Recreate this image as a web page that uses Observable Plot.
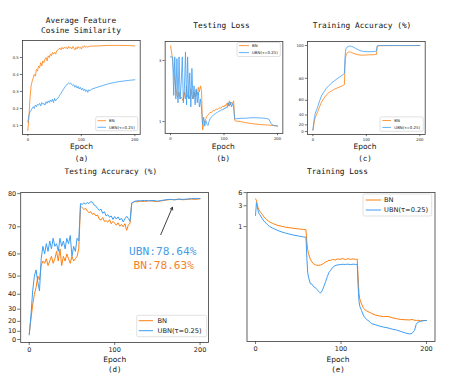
<!DOCTYPE html>
<html><head><meta charset="utf-8">
<script src="https://cdn.jsdelivr.net/npm/d3@7"></script>
<script src="https://cdn.jsdelivr.net/npm/@observablehq/plot@0.6"></script>
<style>
body{margin:0;background:#fff;}
#root{position:relative;width:457px;height:384px;overflow:hidden;background:#fff;}
</style></head><body><div id="root"></div>
<script>
// ---------- data ----------
const xTicks = [0, 100, 200];
const seriesNames = ["BN", "UBN(τ=0.25)"];

// (a) Average feature cosine similarity
const epochsA = [0,2,4,6,8,10,12,14,16,18,20,22,24,26,28,30,32,34,36,38,40,42,44,46,48,50,52,54,56,58,60,62,64,66,68,70,72,74,76,78,80,82,84,86,88,90,92,94,96,98,100,102,104,106,108,110,112,114,116,118,120,130,140,150,160,170,180,190,200];
const bnA = [0.07,0.15,0.26,0.33,0.36,0.38,0.40,0.39,0.43,0.42,0.45,0.44,0.47,0.45,0.48,0.47,0.49,0.50,0.48,0.51,0.50,0.52,0.51,0.53,0.52,0.53,0.52,0.54,0.545,0.55,0.555,0.545,0.56,0.55,0.56,0.555,0.56,0.55,0.565,0.555,0.56,0.55,0.565,0.555,0.545,0.56,0.55,0.565,0.555,0.56,0.55,0.565,0.56,0.57,0.56,0.565,0.56,0.565,0.565,0.568,0.567,0.568,0.57,0.571,0.571,0.571,0.571,0.57,0.568];
const ubnA = [0.12,0.16,0.18,0.19,0.20,0.21,0.20,0.22,0.21,0.225,0.22,0.23,0.215,0.235,0.225,0.23,0.22,0.24,0.23,0.245,0.235,0.25,0.24,0.255,0.235,0.26,0.245,0.255,0.26,0.27,0.28,0.29,0.30,0.31,0.32,0.33,0.335,0.345,0.35,0.345,0.35,0.34,0.335,0.34,0.325,0.335,0.32,0.33,0.315,0.325,0.31,0.32,0.305,0.315,0.30,0.31,0.295,0.31,0.305,0.31,0.315,0.325,0.335,0.345,0.352,0.358,0.362,0.366,0.369];
const yTicksA = [0.1, 0.2, 0.3, 0.4, 0.5];

// (b) Testing loss (log)
const epochsB = [0,2,4,6,8,10,12,14,16,18,20,22,24,26,28,30,32,34,36,38,40,42,44,46,48,50,52,54,56,58,60,62,64,66,68,70,72,74,76,78,80,82,84,86,88,90,92,94,96,98,100,102,104,106,108,110,112,114,116,118,120,122,130,140,150,160,170,180,184,188,192,196,200];
const bnB = [3.9,3.5,3.0,2.4,2.1,1.8,1.6,1.55,1.7,1.5,1.55,1.5,1.45,1.7,1.5,1.9,1.55,1.6,1.5,1.8,1.6,1.5,1.7,1.55,1.75,1.6,1.85,1.7,1.9,1.75,0.86,0.95,1.02,1.05,1.1,1.12,1.15,1.18,1.17,1.2,1.22,1.21,1.24,1.25,1.24,1.27,1.28,1.27,1.3,1.32,1.3,1.35,1.33,1.4,1.32,1.45,1.35,1.42,1.38,1.45,1.02,1.01,1.0,0.98,0.965,0.955,0.945,0.94,0.937,0.933,0.93,0.927,0.925];
const ubnB = [3.2,3.2,3.2,1.6,3.2,1.5,3.1,1.4,3.2,1.5,2.0,3.2,1.4,1.8,3.5,1.35,3.2,1.5,2.4,1.3,2.6,1.5,1.9,1.35,1.8,1.4,1.7,1.3,1.5,1.25,0.95,1.08,0.92,1.02,0.95,0.93,1.0,1.05,1.08,1.1,1.12,1.14,1.15,1.17,1.18,1.2,1.21,1.22,1.24,1.23,1.27,1.26,1.3,1.28,1.4,1.32,1.42,1.3,1.38,1.3,1.05,1.05,1.06,1.06,1.07,1.07,1.065,1.055,1.04,0.96,0.935,0.925,0.92];
const yTicksB = [1, 3];

// (c) Training accuracy
const epochsC = [0,1,2,3,4,6,8,10,13,16,20,25,30,35,40,45,50,55,59,60,61,62,64,66,68,70,72,75,80,85,90,95,100,105,110,115,119,120,121,125,130,140,150,160,170,180,190,200];
const bnC = [5,13,22,29,34,39,43,47,53,57.5,61.5,65.5,68,69.5,71,72,73,74,75,88,93,95,96,96.5,96.7,96.6,96.4,96,95.5,95.1,94.9,94.9,95,95.1,95.1,95.2,95.3,99,99.8,99.9,99.9,99.95,99.95,99.95,99.95,99.95,99.95,99.95];
const ubnC = [5,18,28,36,41,46,50,54,60,64.5,68,71.8,74.2,76.3,78,79.5,81,82.3,83.5,93,97,98.5,99.2,99.5,99.6,99.7,99.6,99.3,98.5,97.8,97.2,96.9,96.8,96.8,96.8,96.9,97.2,99.5,99.9,100,100,100,100,100,100,100,100,100];
const yTicksC = [0, 20, 40, 60, 80, 100];

// (d) Testing accuracy
const epochsD = [0,2,4,6,8,10,12,14,16,18,20,22,24,26,28,30,32,34,36,38,40,42,44,46,48,50,52,54,56,58,60,62,64,66,68,70,72,74,76,78,80,82,84,86,88,90,92,94,96,98,100,102,104,106,108,110,112,114,116,118,120,122,124,126,130,135,140,145,150,155,160,165,170,175,180,185,190,195,200];
const bnD = [7,22,33,40,44,50,48,55,57,56,58,55,57,59,56,58,61,57,62,55,59,57,60,58,56,59,57,58,59,62,76.5,76,75.5,75.8,75,74.5,74.8,74,74.3,73.5,73.8,72.5,72.2,73,71.8,72,71.5,72.3,71,71.8,71.2,70.5,71.3,70.2,70.8,70,71,68.8,70.5,71.2,77.3,77.6,77.8,77.7,77.9,77.8,78.0,77.9,77.8,78.0,78.2,78.4,78.3,78.4,78.3,78.4,78.5,78.4,78.6];
const ubnD = [6,25,42,50,53,47,42,58,63,60,64,61,65,62,66,63,64,61,66,63,65,62,66,64,67,59,63,61,66,65,77.2,77,77.4,77.1,77.5,77.2,77.8,77.6,76.8,76.5,75.8,75.2,75.6,74.3,74.8,73.5,73.9,73.1,73.5,72.4,73.3,72.5,73.2,72.2,72.8,71.6,72.6,73.4,72.7,71.8,77.4,77.7,77.9,78.0,78.0,78.1,78.0,78.1,77.9,78.1,78.3,78.4,78.3,78.5,78.4,78.5,78.6,78.7,78.6];
const yTicksD = [0, 10, 20, 30, 40, 50, 60, 70, 80];
const finalLabels = ["UBN:78.64%", "BN:78.63%"];
const annoArrow = [{e1: 154, a1: 67.3, e2: 167.6, a2: 76.1}];
const annoText = [{e: 156.3, a: 61.1}, {e: 157.5, a: 54.9}];

// (e) Training loss (log)
const epochsE = [0,1,2,3,4,6,8,10,13,16,20,25,30,35,40,45,50,55,59,60,61,62,64,66,68,70,72,74,76,78,80,82,84,86,88,90,93,96,99,102,105,108,111,114,117,119,120,121,122,124,126,128,130,133,136,140,145,150,155,160,165,170,175,180,183,186,188,190,193,196,200];
const bnE = [4.3,4.0,3.2,2.7,2.4,2.1,1.9,1.65,1.45,1.3,1.18,1.08,1.02,0.97,0.94,0.91,0.885,0.865,0.85,0.45,0.3,0.24,0.18,0.155,0.14,0.133,0.13,0.13,0.132,0.137,0.145,0.155,0.16,0.17,0.168,0.178,0.172,0.182,0.178,0.186,0.175,0.185,0.178,0.183,0.177,0.18,0.07,0.03,0.022,0.017,0.014,0.0125,0.0118,0.011,0.0103,0.0095,0.009,0.0087,0.0088,0.0082,0.0078,0.0075,0.0074,0.0073,0.0075,0.0072,0.0071,0.0072,0.007,0.0071,0.0071];
const ubnE = [1.8,3.5,2.8,2.3,2.0,1.75,1.5,1.33,1.15,1.02,0.92,0.83,0.76,0.71,0.67,0.635,0.61,0.585,0.57,0.2,0.09,0.07,0.05,0.048,0.042,0.04,0.036,0.033,0.03,0.034,0.043,0.055,0.072,0.09,0.1,0.115,0.128,0.133,0.135,0.137,0.136,0.138,0.135,0.138,0.136,0.137,0.045,0.02,0.015,0.012,0.0095,0.0082,0.0075,0.0068,0.006,0.0057,0.0053,0.005,0.0048,0.0045,0.0043,0.004,0.0037,0.0035,0.0036,0.0042,0.0058,0.0065,0.0068,0.007,0.0071];
const yTicksE = [1, 3, 6];

// ---------- style ----------
const ORANGE = "#ff7f0e", BLUE = "#3d9ef5", FRAME = "#3a3a3a";
const SANS = '"DejaVu Sans", sans-serif', MONO = '"DejaVu Sans Mono", monospace';
const root = document.getElementById("root");

// accuracy axis of the original is exponentially stretched
const TAU = 50;
const accT = v => Math.exp(v / TAU);
const accFmt = t => String(Math.round(TAU * Math.log(t)));

function drawPanel(c) {
  const d = c.epochs.map((e, i) => ({e, bn: c.bn[i], ubn: c.ubn[i]}));
  const ty = c.ty || (v => v);
  const yt = c.yticks.map(ty);
  const isLog = c.ytype === "log";
  const svg = Plot.plot({
    width: c.w, height: c.h,
    marginLeft: c.ml, marginRight: c.mr, marginTop: c.mt, marginBottom: c.mb,
    style: `background:none;overflow:visible;max-width:none;font-family:${SANS};`,
    x: {domain: [-10, 210]},
    y: {type: c.ytype || "linear", domain: c.ydomain},
    marks: [
      Plot.line(d, {x: "e", y: r => ty(r.bn), stroke: ORANGE, strokeWidth: c.sw}),
      Plot.line(d, {x: "e", y: r => ty(r.ubn), stroke: BLUE, strokeWidth: c.sw}),
      ...(c.extra || []),
      Plot.frame({stroke: FRAME, strokeWidth: 0.8}),
      Plot.axisX({ticks: xTicks, tickFormat: d => String(d), tickSize: c.ts, tickPadding: c.tp, fontSize: c.fs, label: null, stroke: FRAME, strokeWidth: 0.7, fill: "#222"}),
      Plot.axisY({ticks: yt, tickFormat: c.yfmt, tickSize: c.ts, tickPadding: c.tp, fontSize: c.fs, label: null, stroke: FRAME, strokeWidth: 0.7, fill: isLog ? "none" : "#222"}),
      ...(isLog ? [Plot.text(yt, {y: v => v, frameAnchor: "left", dx: -(c.ts + c.tp), textAnchor: "end", text: c.yfmt, fontSize: c.fs, fill: "#222"})] : [])
    ]
  });
  svg.style.position = "absolute";
  svg.style.left = c.x + "px";
  svg.style.top = c.y + "px";
  root.appendChild(svg);
}

const topCommon = {w: 150, h: 110, y: 35, sw: 0.8, ts: 2.2, tp: 1.6, fs: 3.8};
drawPanel({...topCommon, x: 0, ml: 22, mr: 10.3, mt: 5, mb: 11,
  epochs: epochsA, bn: bnA, ubn: ubnA, ydomain: [0.047, 0.6], yticks: yTicksA, yfmt: d => d.toFixed(1)});
drawPanel({...topCommon, x: 145, ml: 19.65, mr: 12.65, mt: 6, mb: 12,
  epochs: epochsB, bn: bnB, ubn: ubnB, ytype: "log", ydomain: [0.806, 4.22], yticks: yTicksB, yfmt: d => String(d)});
drawPanel({...topCommon, x: 295, ml: 12, mr: 20.3, mt: 6, mb: 11,
  epochs: epochsC, bn: bnC, ubn: ubnC, ty: accT, ydomain: [0.777, 7.687], yticks: yTicksC, yfmt: accFmt});

const botCommon = {w: 225, h: 170, y: 185, sw: 1.0, ts: 3, tp: 1.5, fs: 6.5};
drawPanel({...botCommon, x: 0, ml: 20.2, mr: 16.9, mt: 7, mb: 13,
  epochs: epochsD, bn: bnD, ubn: ubnD, ty: accT, ydomain: [0.919, 4.984], yticks: yTicksD, yfmt: accFmt,
  extra: [
    Plot.arrow(annoArrow, {x1: "e1", y1: r => accT(r.a1), x2: "e2", y2: r => accT(r.a2), stroke: "#111", strokeWidth: 0.8, headLength: 5}),
    Plot.text([annoText[0]], {x: "e", y: r => accT(r.a), text: () => finalLabels[0], fill: "#4a9be6", fontFamily: MONO, fontSize: 11.2}),
    Plot.text([annoText[1]], {x: "e", y: r => accT(r.a), text: () => finalLabels[1], fill: "#f5822a", fontFamily: MONO, fontSize: 11.2})
  ]});
drawPanel({...botCommon, x: 225, ml: 21.5, mr: 15.5, mt: 7, mb: 14,
  epochs: epochsE, bn: bnE, ubn: ubnE, ytype: "log", ydomain: [0.00235, 6.02], yticks: yTicksE, yfmt: d => String(d)});

// ---------- overlay: titles, axis labels, legends ----------
const ov = d3.create("svg").attr("width", 457).attr("height", 384)
  .style("position", "absolute").style("left", "0px").style("top", "0px");
function txt(x, y, s, size, family, anchor = "middle", fill = "#111") {
  ov.append("text").attr("x", x).attr("y", y).attr("text-anchor", anchor)
    .attr("font-family", family).attr("font-size", size).attr("fill", fill).text(s);
}
// titles
txt(81, 23, "Average Feature", 7.8, MONO);
txt(81, 33.3, "Cosine Similarity", 7.8, MONO);
txt(221.5, 28, "Testing Loss", 7.8, MONO);
txt(362, 28, "Training Accuracy (%)", 7.8, MONO);
txt(110.8, 174, "Testing Accuracy (%)", 7.7, MONO);
txt(337.5, 174, "Training Loss", 7.8, MONO);
// axis labels + panel letters
[[81.5, "(a)"], [223.3, "(b)"], [365, "(c)"]].forEach(([x, l]) => {
  txt(x, 148.5, "Epoch", 7.5, SANS);
  txt(x, 160.5, l, 7.5, MONO);
});
[[114.7, "(d)"], [338, "(e)"]].forEach(([x, l]) => {
  txt(x, 361.5, "Epoch", 7.5, SANS);
  txt(x, 372, l, 7.5, MONO);
});
// legends
function legend(b) {
  ov.append("rect").attr("x", b.x).attr("y", b.y).attr("width", b.w).attr("height", b.h)
    .attr("rx", 1.5).attr("fill", "#fff").attr("fill-opacity", 0.85)
    .attr("stroke", "#cfcfcf").attr("stroke-width", 0.6);
  [ORANGE, BLUE].forEach((col, i) => {
    ov.append("line").attr("x1", b.s0).attr("x2", b.s1).attr("y1", b.rows[i]).attr("y2", b.rows[i])
      .attr("stroke", col).attr("stroke-width", b.sw);
    ov.append("text").attr("x", b.tx).attr("y", b.rows[i]).attr("dominant-baseline", "central")
      .attr("font-family", SANS).attr("font-size", b.fs).attr("fill", "#222").text(seriesNames[i]);
  });
}
legend({x: 95.7, y: 116.7, w: 42, h: 14, rows: [120.7, 127.3], s0: 97.5, s1: 106, tx: 109, fs: 3.9, sw: 0.8});
legend({x: 237, y: 42.5, w: 43.3, h: 14, rows: [45.6, 52.6], s0: 239, s1: 249, tx: 252, fs: 3.9, sw: 0.8});
legend({x: 380, y: 116.9, w: 43.3, h: 14.4, rows: [120.5, 127.4], s0: 382.3, s1: 391, tx: 394.3, fs: 3.9, sw: 0.8});
legend({x: 136.7, y: 315.3, w: 70, h: 21.4, rows: [320.7, 330.7], s0: 138.7, s1: 153, tx: 157.5, fs: 6.7, sw: 1});
legend({x: 363, y: 194, w: 68.7, h: 22, rows: [200, 210], s0: 365.7, s1: 381, tx: 384, fs: 6.7, sw: 1});
root.appendChild(ov.node());
</script></body></html>
